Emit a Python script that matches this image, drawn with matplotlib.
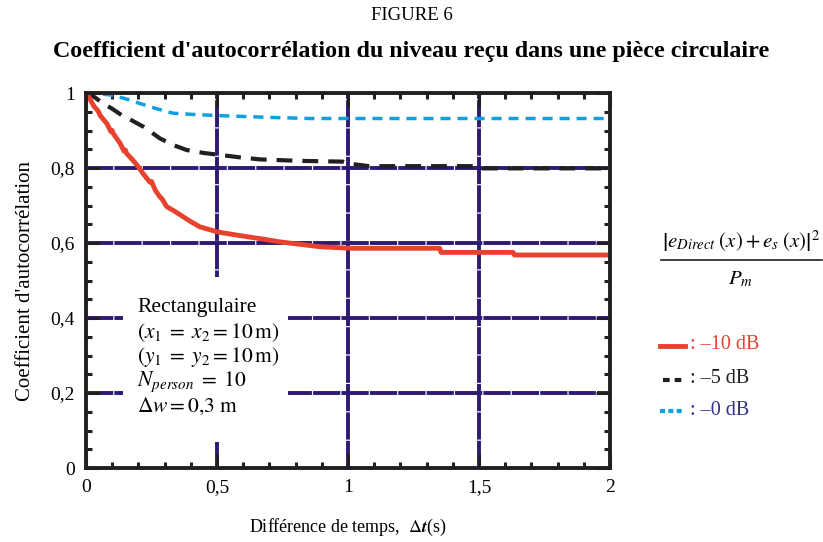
import numpy as np
import matplotlib.pyplot as plt
from matplotlib.lines import Line2D
from matplotlib.patches import Rectangle
from matplotlib.ticker import MultipleLocator, FixedLocator

plt.rcParams['font.family'] = ['Liberation Serif', 'DejaVu Serif']
plt.rcParams['mathtext.fontset'] = 'stix'

# values
red_t = [0, 0.01, 0.03, 0.045, 0.05, 0.053, 0.08, 0.095, 0.1, 0.104, 0.13, 0.145, 0.15,
         0.155, 0.18, 0.2, 0.22, 0.244, 0.25, 0.265, 0.282, 0.29, 0.308, 0.34, 0.371,
         0.40, 0.435, 0.47, 0.499, 0.55, 0.613, 0.68, 0.74, 0.8, 0.893, 1.008, 1.35,
         1.355, 1.63, 1.635, 2.0]
red_c = [1.0, 0.99, 0.965, 0.953, 0.947, 0.941, 0.918, 0.897, 0.9, 0.892, 0.866, 0.845,
         0.848, 0.839, 0.82, 0.803, 0.783, 0.762, 0.764, 0.74, 0.723, 0.718, 0.697,
         0.684, 0.670, 0.657, 0.643, 0.636, 0.630, 0.624, 0.617, 0.61, 0.603, 0.598,
         0.590, 0.586, 0.586, 0.575, 0.575, 0.568, 0.568]

black_t = [0, 0.03, 0.066, 0.1, 0.136, 0.18, 0.219, 0.25, 0.282, 0.33, 0.384, 0.45, 0.511,
           0.58, 0.664, 0.74, 0.817, 0.9, 0.98, 1.0, 1.08, 1.5, 1.51, 2.0]
black_c = [1.0, 0.99, 0.972, 0.958, 0.941, 0.925, 0.91, 0.895, 0.879, 0.862, 0.848, 0.84,
           0.835, 0.829, 0.823, 0.821, 0.819, 0.818, 0.817, 0.812, 0.805, 0.805, 0.799, 0.799]

blue_t = [0, 0.05, 0.09, 0.15, 0.206, 0.27, 0.333, 0.43, 0.537, 0.7, 0.855, 2.0]
blue_c = [1.0, 0.998, 0.995, 0.985, 0.972, 0.958, 0.946, 0.942, 0.939, 0.935, 0.932, 0.932]

x_ticks = [0, 0.5, 1, 1.5, 2]
x_labels = ['0', '0,5', '1', '1,5', '2']
y_ticks = [0, 0.2, 0.4, 0.6, 0.8, 1]
y_labels = ['0', '0,2', '0,4', '0,6', '0,8', '1']

red = '#e8422f'
black = '#231f20'
blue = '#109fdf'
purple = '#2e1a72'

fig = plt.figure(figsize=(8.23, 5.42), dpi=100)
ax = fig.add_axes([0.1045, 0.1365, 0.6367, 0.6919])

# grid lines with tiny white breaks
for gx in x_ticks[1:-1]:
    ax.axvline(gx, color=purple, lw=2.8, ls=(0, (7, 0.3)), zorder=1)
for gy in y_ticks[1:-1]:
    ax.axhline(gy, color=purple, lw=2.8, ls=(0, (7, 0.3)), zorder=1)

# white box hiding the grid behind the parameters
ax.add_patch(Rectangle((0.14, 0.07), 0.63, 0.44, facecolor='white', edgecolor='none', zorder=2))

ax.plot(blue_t, blue_c, color=blue, lw=2.5, ls=(0, (2.9, 2)), zorder=3)
ax.plot(black_t, black_c, color=black, lw=3, ls=(0, (3.8, 2.4)), zorder=3)
ax.plot(red_t, red_c, color=red, lw=3.5, zorder=4)

ax.set_xlim(0, 2)
ax.set_ylim(0, 1)
ax.xaxis.set_major_locator(FixedLocator(x_ticks))
ax.yaxis.set_major_locator(FixedLocator(y_ticks))
ax.set_xticklabels(x_labels)
ax.set_yticklabels(y_labels)
ax.xaxis.set_minor_locator(MultipleLocator(0.1))
ax.yaxis.set_minor_locator(MultipleLocator(0.05))
ax.tick_params(which='both', direction='in', top=True, right=True, color=black,
               labelsize=14, pad=8)
ax.tick_params(which='major', length=10, width=2.2)
ax.tick_params(which='minor', length=4, width=2.2)
for s in ax.spines.values():
    s.set_linewidth(2.8)
    s.set_color(black)
    s.set_zorder(5)

ax.set_xlabel(r"Différence de temps,  $\Delta\boldsymbol{t}$(s)", fontsize=13, labelpad=15)
ax.set_ylabel("Coefficient d'autocorrélation", fontsize=15, labelpad=11)

params = ["Rectangulaire",
          r"$(x_1\;=\;x_2 = 10\,\mathrm{m})$",
          r"$(y_1\;=\;y_2 = 10\,\mathrm{m})$",
          r"$N_{person}\;=\;10$",
          r"$\Delta w = 0{,}3\ \mathrm{m}$"]
for i, p in enumerate(params):
    ax.text(0.195, 0.428 - i * 0.066, p, fontsize=15.5, va='center', ha='left', zorder=6)

fig.text(0.5, 0.972, "FIGURE 6", ha='center', va='center', fontsize=13.5)
fig.text(0.5, 0.905, "Coefficient d'autocorrélation du niveau reçu dans une pièce circulaire",
         ha='center', va='center', fontsize=17.3, fontweight='bold')

# formula and legend at the right
fig.text(0.9, 0.555, r"$\left|e_{Direct}\;(x) + e_s\;(x)\right|^2$", ha='center', va='center',
         fontsize=15)
fig.add_artist(Line2D([0.803, 0.999], [0.52, 0.52], color=black, lw=1.2))
fig.text(0.9, 0.485, r"$P_m$", ha='center', va='center', fontsize=15)

fig.add_artist(Line2D([0.802, 0.832], [0.362, 0.362], color=red, lw=3.5))
fig.text(0.838, 0.364, ": –10 dB", color=red, ha='left', va='center', fontsize=14.5)
fig.add_artist(Line2D([0.806, 0.83], [0.299, 0.299], color=black, lw=3, ls=(0, (1.6, 1.2))))
fig.text(0.838, 0.301, ": –5 dB", color=black, ha='left', va='center', fontsize=14.5)
fig.add_artist(Line2D([0.802, 0.832], [0.241, 0.241], color=blue, lw=3, ls=(0, (1.2, 0.8))))
fig.text(0.838, 0.243, ": –0 dB", color='#2b2f86', ha='left', va='center', fontsize=14.5)

plt.savefig("out.png", dpi=100)
